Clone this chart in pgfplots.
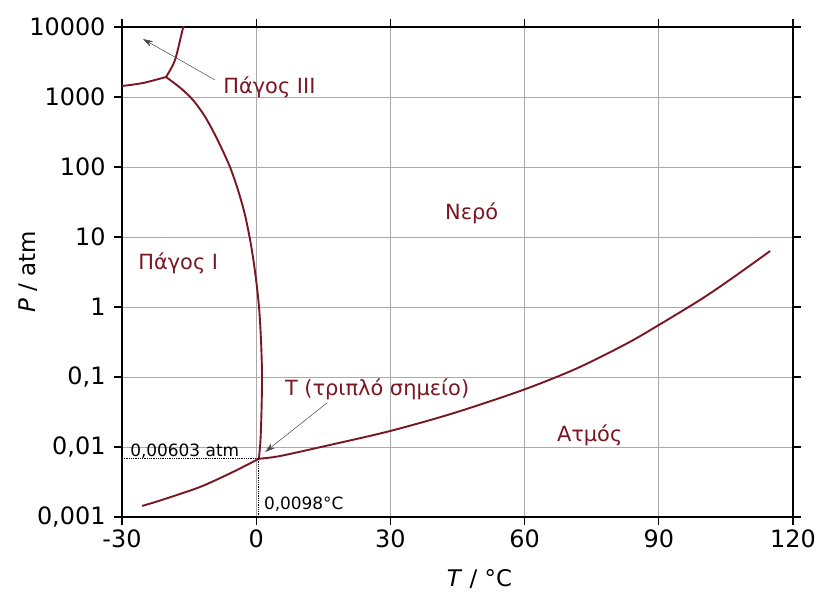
\documentclass[border=0pt]{standalone}
\usepackage{fontspec}
\setmainfont{DejaVu Sans}
\usepackage{pgfplots}
\pgfplotsset{compat=1.18}
\usetikzlibrary{arrows.meta,calc}
\definecolor{phasered}{RGB}{122,22,34}
\definecolor{gridgray}{RGB}{170,170,170}
\definecolor{arrowgray}{RGB}{70,70,70}

\begin{document}
\begin{tikzpicture}
\begin{axis}[
  scale only axis,
  width=671bp, height=490bp,
  xmin=-30, xmax=120,
  ymode=log, ymin=0.001, ymax=10000,
  xtick={-30,0,30,60,90,120},
  xticklabels={-30,0,30,60,90,120},
  ytick={0.001,0.01,0.1,1,10,100,1000,10000},
  yticklabels={{0,001},{0,01},{0,1},1,10,100,1000,10000},
  minor y tick style={draw=none},
  grid=major,
  major grid style={gridgray, line width=0.7bp},
  axis line style={line width=1.5bp},
  tick align=outside, tick pos=both,
  major tick length=8bp,
  tick style={black, line width=1.3bp},
  tick label style={font=\fontsize{24}{24}\selectfont},
  /pgf/number format/assume math mode=true,
  xticklabel style={yshift=-1bp},
  yticklabel style={xshift=-5bp},
]
% ice I / vapour (sublimation)
\addplot[phasered, line width=1.9bp, smooth] coordinates {
  (-25.5,0.00144) (-21.5,0.00172) (-12.6,0.00268) (-5.2,0.0044) (0.6,0.0068)
};
% liquid / vapour
\addplot[phasered, line width=1.9bp, smooth] coordinates {
  (0.6,0.0068) (5.3,0.00743) (16.5,0.0107) (29.9,0.0169) (44.0,0.0303)
  (59.6,0.0652) (71.7,0.133) (82.9,0.302) (90.0,0.553) (99.2,1.26)
  (105.9,2.45) (114.9,6.31)
};
% ice I / liquid
\addplot[phasered, line width=1.9bp, smooth] coordinates {
  (0.6,0.0068) (0.96,0.0126) (1.19,0.0338) (1.30,0.107) (1.07,0.338)
  (0.63,1.0) (-0.16,2.87) (-1.16,7.69) (-2.50,20.6) (-4.07,46.9)
  (-5.86,100) (-7.87,193) (-9.77,338) (-11.67,553) (-14.13,906)
  (-16.92,1345) (-20.16,1931)
};
% ice I / ice III
\addplot[phasered, line width=1.9bp, smooth] coordinates {
  (-30,1436) (-25.3,1585) (-20.16,1931)
};
% ice III / liquid
\addplot[phasered, line width=1.9bp, smooth] coordinates {
  (-20.16,1931) (-18.15,3378) (-16.36,9680) (-16.1,10000)
};
% triple point guides
\addplot[black, densely dotted, line width=0.8bp] coordinates {(-30,0.0068) (0.6,0.0068)};
\addplot[black, densely dotted, line width=0.8bp] coordinates {(0.6,0.0068) (0.6,0.001)};

\draw[arrowgray, line width=0.5bp, -{Stealth[length=10bp,width=6bp]}]
  (axis cs:-9.2,1750) -- (axis cs:-25.3,6740);
\draw[arrowgray, line width=0.5bp, -{Stealth[length=10bp,width=6bp]}]
  (axis cs:15.8,0.0425) -- (axis cs:2.0,0.0085);

\begin{scope}[every node/.style={font=\fontsize{21}{21}\selectfont, text=phasered, inner sep=0pt}]
\node[anchor=base west] at (axis cs:-7.4,1140) {Πάγος III};
\node[anchor=base west] at (axis cs:42.2,18.07) {Νερό};
\node[anchor=base west] at (axis cs:-26.4,3.49) {Πάγος Ι};
\node[anchor=base west] at (axis cs:6.4,0.0553) {Τ (τριπλό σημείο)};
\node[anchor=base west] at (axis cs:67.2,0.01179) {Ατμός};
\end{scope}
\node[anchor=base west, inner sep=0pt, font=\fontsize{17}{17}\selectfont] at (axis cs:-28.2,0.0072) {0,00603 atm};
\node[anchor=base west, inner sep=0pt, font=\fontsize{17}{17}\selectfont] at (axis cs:1.7,0.0013) {0,0098°C};
\end{axis}
\node[rotate=90, font=\fontsize{23}{23}\selectfont] at ($(current axis.west)+(-94bp,0)$) {\textit{P} / atm};
\node[font=\fontsize{23}{23}\selectfont] at ($(current axis.south)+(22bp,-62bp)$) {\textit{T} / °C};
\pgfresetboundingbox
\useasboundingbox ($(current axis.south west)+(-122bp,-76bp)$) rectangle ($(current axis.north east)+(24bp,27bp)$);
\end{tikzpicture}
\end{document}
